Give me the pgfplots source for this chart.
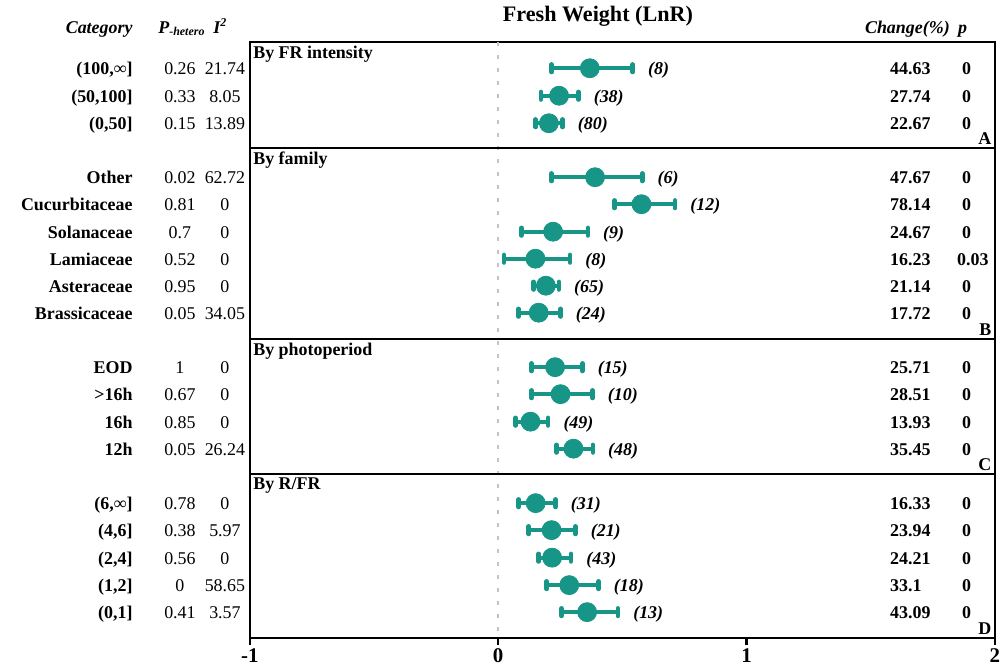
\documentclass[border=0pt]{standalone}
\usepackage{pgfplots}
\pgfplotsset{compat=1.18}
\usepackage{pgfplotstable}
\usepackage{fontspec}
\setmainfont{Liberation Serif}
\definecolor{tl}{RGB}{23,150,136}

\pgfplotstableread{
y mean lo hi n cat phet itwo chg p px
68 0.369 0.215 0.542 (8) (100,∞] 0.26 21.74 44.63 0 1.8671
95.5 0.245 0.172 0.323 (38) (50,100] 0.33 8.05 27.74 0 1.8671
123 0.204 0.151 0.259 (80) (0,50] 0.15 13.89 22.67 0 1.8671
177 0.390 0.215 0.580 (6) Other 0.02 62.72 47.67 0 1.8671
204 0.577 0.468 0.712 (12) Cucurbitaceae 0.81 0 78.14 0 1.8671
231.5 0.221 0.093 0.361 (9) Solanaceae 0.7 0 24.67 0 1.8671
258.5 0.150 0.023 0.289 (8) Lamiaceae 0.52 0 16.23 0.03 1.8470
285.5 0.192 0.143 0.244 (65) Asteraceae 0.95 0 21.14 0 1.8671
312.5 0.163 0.082 0.251 (24) Brassicaceae 0.05 34.05 17.72 0 1.8671
367 0.229 0.134 0.339 (15) EOD 1 0 25.71 0 1.8671
394 0.251 0.134 0.380 (10) >16h 0.67 0 28.51 0 1.8671
421.5 0.130 0.070 0.201 (49) 16h 0.85 0 13.93 0 1.8671
448.5 0.303 0.235 0.381 (48) 12h 0.05 26.24 35.45 0 1.8671
503 0.151 0.082 0.231 (31) (6,∞] 0.78 0 16.33 0 1.8671
530 0.215 0.123 0.311 (21) (4,6] 0.38 5.97 23.94 0 1.8671
557.5 0.217 0.163 0.293 (43) (2,4] 0.56 0 24.21 0 1.8671
585 0.286 0.195 0.404 (18) (1,2] 0 58.65 33.1 0 1.8671
612 0.358 0.255 0.482 (13) (0,1] 0.41 3.57 43.09 0 1.8671
}\data

\newcommand{\tf}{\fontsize{9}{10}\selectfont}

\begin{document}
\begin{tikzpicture}
\begin{axis}[
  scale only axis, width=372.5bp, height=298bp,
  xmin=-1, xmax=2, ymin=42, ymax=638, y dir=reverse,
  axis line style={line width=1.25bp},
  xtick={-1,0,1,2}, ytick=\empty,
  xtick pos=lower, tick align=outside,
  major tick length=3.5bp,
  tick style={line width=1.25bp, black},
  xticklabel style={font=\bfseries\fontsize{10.5}{12}\selectfont, inner sep=1.5bp},
  /pgf/number format/assume math mode=true,
  clip=false,
  txt/.style={only marks, mark=none, point meta=explicit symbolic,
    nodes near coords, nodes near coords align=center,
    every node near coord/.append style={inner sep=0pt, black, yshift=-3.2bp, #1}},
]
% zero reference line
\addplot[color={rgb,255:red,195;green,195;blue,195}, line width=1bp, dash pattern=on 2bp off 4.5bp] coordinates {(0,42) (0,638)};

% panel separators
\draw[line width=1.25bp] (axis cs:-1,148) -- (axis cs:2,148);
\draw[line width=1.25bp] (axis cs:-1,339) -- (axis cs:2,339);
\draw[line width=1.25bp] (axis cs:-1,474) -- (axis cs:2,474);

% effect sizes with CI
\addplot[only marks, mark=*, mark size=4.75bp, color=tl, fill=tl,
  error bars/.cd, x dir=both, x explicit,
  error bar style={line width=2bp, tl},
  error mark options={tl, rotate=90, line width=2.3bp, mark size=1.9bp, line cap=round}]
  table[x=mean, y=y, x error plus expr=\thisrow{hi}-\thisrow{mean}, x error minus expr=\thisrow{mean}-\thisrow{lo}] {\data};

% counts
\addplot[txt={anchor=base west, xshift=7.5bp, font=\bfseries\itshape\tf}] table[x=hi, y=y, meta=n] {\data};
% left columns
\addplot[txt={anchor=base east, font=\bfseries\tf}] table[x expr=-1.4712, y=y, meta=cat] {\data};
\addplot[txt={anchor=base, font=\tf}] table[x expr=-1.2819, y=y, meta=phet] {\data};
\addplot[txt={anchor=base, font=\tf}] table[x expr=-1.1007, y=y, meta=itwo] {\data};
% right columns
\addplot[txt={anchor=base west, font=\bfseries\tf}] table[x expr=1.5772, y=y, meta=chg] {\data};
\addplot[txt={anchor=base west, font=\bfseries\tf}] table[x=px, y=y, meta=p] {\data};

% panel titles and letters
\node[anchor=north west, font=\bfseries\tf, inner sep=1.5bp] at (axis cs:-1,42) {By FR intensity};
\node[anchor=north west, font=\bfseries\tf, inner sep=1.5bp] at (axis cs:-1,148) {By family};
\node[anchor=north west, font=\bfseries\tf, inner sep=1.5bp] at (axis cs:-1,339) {By photoperiod};
\node[anchor=north west, font=\bfseries\tf, inner sep=1.5bp] at (axis cs:-1,474) {By R/FR};
\node[anchor=south east, font=\bfseries\tf, inner sep=1.5bp] at (axis cs:2,148) {A};
\node[anchor=south east, font=\bfseries\tf, inner sep=1.5bp] at (axis cs:2,339) {B};
\node[anchor=south east, font=\bfseries\tf, inner sep=1.5bp] at (axis cs:2,474) {C};
\node[anchor=south east, font=\bfseries\tf, inner sep=1.5bp] at (axis cs:2,638) {D};

% headers
\node[font=\bfseries\fontsize{11.1}{13}\selectfont] at (axis cs:0.4015,16.5) {Fresh Weight (LnR)};
\node[anchor=base east, yshift=-3.2bp, inner sep=0pt, font=\bfseries\itshape\tf] at (axis cs:-1.4712,27) {Category};
\node[anchor=base west, yshift=-3.2bp, inner sep=0pt, font=\bfseries\itshape\tf] at (axis cs:-1.3705,27) {P\textsubscript{-hetero}};
\node[anchor=base west, yshift=-3.2bp, inner sep=0pt, font=\bfseries\itshape\tf] at (axis cs:-1.149,27) {I\textsuperscript{2}};
\node[anchor=base, yshift=-3.2bp, inner sep=0pt, font=\bfseries\itshape\tf] at (axis cs:1.648,27) {Change(\%)};
\node[anchor=base west, yshift=-3.2bp, inner sep=0pt, font=\bfseries\itshape\tf] at (axis cs:1.851,27) {p};

% bounding box of the whole figure
\path (axis cs:-2.0067,0) -- (axis cs:2.0322,669);
\end{axis}
\end{tikzpicture}
\end{document}
